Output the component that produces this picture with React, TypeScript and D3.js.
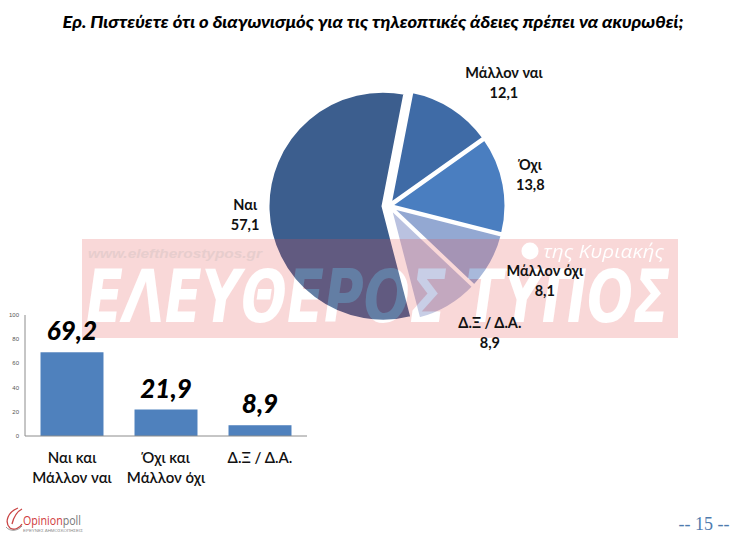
import React from "react";
import * as d3 from "d3";

const W = 747;
const H = 552;

const titleText = "Ερ. Πιστεύετε ότι ο διαγωνισμός για τις τηλεοπτικές άδειες πρέπει να ακυρωθεί;";

// Pie data
const pieCategories = ["Ναι", "Μάλλον ναι", "Όχι", "Μάλλον όχι", "Δ.Ξ / Δ.Α."];
const pieValues = [57.1, 12.1, 13.8, 8.1, 8.9];
const pieColors = ["#3C5E8E", "#3F6BA6", "#4A7EC0", "#93A8D2", "#BAC2E0"];

// Bar data
const barCategories = [["Ναι και", "Μάλλον ναι"], ["Όχι και", "Μάλλον όχι"], ["Δ.Ξ / Δ.Α."]];
const barValues = [69.2, 21.9, 8.9];
const yTicks = [0, 20, 40, 60, 80, 100];

// layout nudges for pie labels (dx, dy) relative to label arc
const labelNudge: [number, number][] = [
  [11, -1],
  [31, 2],
  [-11, -7],
  [20, -5],
  [22, -11],
];

const fmt = (v: number) => v.toFixed(1).replace(".", ",");

export default function App() {
  // ---- Pie ----
  const cx = 389;
  const cy = 206;
  const r = 115;
  const deg = Math.PI / 180;
  const firstStart = 11 * deg - (pieValues[0] / 100) * 2 * Math.PI;
  const pie = d3
    .pie<number>()
    .sort(null)
    .value((d) => d)
    .startAngle(firstStart)
    .endAngle(firstStart + 2 * Math.PI);
  const arcs = pie(pieValues);
  const arcGen = d3.arc<d3.PieArcDatum<number>>().innerRadius(0).outerRadius(r);
  const labelArc = d3.arc<d3.PieArcDatum<number>>().innerRadius(155).outerRadius(155);
  const explode = [6, 2, 2, 2, 2];

  // ---- Bars ----
  const x = d3
    .scaleBand<number>()
    .domain(barValues.map((_, i) => i))
    .range([25, 307])
    .paddingInner(0.33)
    .paddingOuter(0.165);
  const y = d3.scaleLinear().domain([0, 100]).range([436, 315]);

  const labelFont = "Lato, 'Open Sans', sans-serif";
  const wmFont = "'DejaVu Sans', 'Liberation Sans', sans-serif";

  const bigWord = (fill: string) => (
    <text
      x={86}
      y={322}
      fontFamily={wmFont}
      fontWeight="bold"
      fontStyle="italic"
      fontSize={73}
      textLength={584}
      lengthAdjust="spacingAndGlyphs"
      fill={fill}
    >
      ΕΛΕΥΘΕΡΟΣ ΤΥΠΟΣ
    </text>
  );

  return (
    <svg
      width={W}
      height={H}
      style={{ position: "absolute", left: 0, top: 0, background: "#fff" }}
      fontFamily={labelFont}
    >
      <defs>
        <mask id="bandMask" maskUnits="userSpaceOnUse" x="0" y="0" width={W} height={H}>
          <rect x={0} y={0} width={W} height={H} fill="#fff" />
          {bigWord("#000")}
          <circle cx={530} cy={251} r={8.5} fill="#000" />
          <text
            x={543}
            y={258}
            fontFamily="'Open Sans', sans-serif"
            fontStyle="italic"
            fontSize={19}
            textLength={121}
            lengthAdjust="spacingAndGlyphs"
            fill="#000"
          >
            της Κυριακής
          </text>
        </mask>
      </defs>

      {/* Title */}
      <text
        x={373}
        y={28}
        textAnchor="middle"
        fontWeight={900}
        fontStyle="italic"
        fontSize={16}
        textLength={621}
        lengthAdjust="spacingAndGlyphs"
        fill="#000"
      >
        {titleText}
      </text>

      {/* Pie */}
      <g transform={`translate(${cx},${cy})`}>
        {arcs.map((a, i) => {
          const mid = (a.startAngle + a.endAngle) / 2;
          const dx = Math.sin(mid) * explode[i];
          const dy = -Math.cos(mid) * explode[i];
          return (
            <path
              key={i}
              d={arcGen(a) || ""}
              transform={`translate(${dx},${dy})`}
              fill={pieColors[i]}
              stroke="#fff"
              strokeWidth={3}
              strokeLinejoin="round"
            />
          );
        })}
      </g>

      {/* Bars */}
      <g>
        {barValues.map((v, i) => (
          <rect
            key={i}
            x={x(i)}
            y={y(v)}
            width={x.bandwidth()}
            height={y(0) - y(v)}
            fill="#4F81BD"
          />
        ))}
        <line x1={25} x2={307} y1={y(0)} y2={y(0)} stroke="#8C8C8C" strokeWidth={1} />
        <line x1={25} x2={25} y1={y(100)} y2={y(0)} stroke="#8C8C8C" strokeWidth={1} />
        {yTicks.map((t) => (
          <text
            key={t}
            x={19}
            y={y(t) + 2}
            textAnchor="end"
            fontSize={6}
            fill="#555"
            fontFamily="'Liberation Sans', Arial, sans-serif"
          >
            {t}
          </text>
        ))}
      </g>

      {/* Watermark */}
      <g>
        <rect x={82} y={239} width={596} height={99} fill="#E65050" opacity={0.22} mask="url(#bandMask)" />
        <g opacity={0.2}>{bigWord("#fff")}</g>
        <text
          x={88}
          y={258}
          fontFamily="'Liberation Sans', Arial, sans-serif"
          fontWeight="bold"
          fontStyle="italic"
          fontSize={13}
          textLength={174}
          lengthAdjust="spacingAndGlyphs"
          fill="#E7CDCD"
        >
          www.eleftherostypos.gr
        </text>
      </g>

      {/* Pie labels */}
      {arcs.map((a, i) => {
        const [lx, ly] = labelArc.centroid(a);
        const px = cx + lx + labelNudge[i][0];
        const py = cy + ly + labelNudge[i][1];
        return (
          <g key={i} fontWeight="bold" fontSize={14.5} fill="#111" textAnchor="middle">
            <text x={px} y={py}>{pieCategories[i]}</text>
            <text x={px} y={py + 20}>{fmt(pieValues[i])}</text>
          </g>
        );
      })}

      {/* Bar value labels */}
      {barValues.map((v, i) => (
        <text
          key={i}
          x={(x(i) || 0) + x.bandwidth() / 2}
          y={y(v) - 12}
          textAnchor="middle"
          fontWeight={900}
          fontStyle="italic"
          fontSize={26}
          fill="#000"
        >
          {fmt(v)}
        </text>
      ))}

      {/* Bar category labels */}
      {barCategories.map((lines, i) => (
        <text
          key={i}
          x={(x(i) || 0) + x.bandwidth() / 2}
          textAnchor="middle"
          fontSize={15}
          fontWeight={600}
          fill="#111"
        >
          {lines.map((l, j) => (
            <tspan key={j} x={(x(i) || 0) + x.bandwidth() / 2} y={463 + j * 19.5}>
              {l}
            </tspan>
          ))}
        </text>
      ))}

      {/* Footer logo */}
      <g>
        <path
          d="M 18 508 C 8 512, 4 522, 10 528 C 14 531, 20 528, 22 524 M 12 524 C 14 516, 18 511, 22 509"
          fill="none"
          stroke="#C94444"
          strokeWidth={1.3}
        />
        <path d="M 6 527 C 10 532, 18 531, 22 526" fill="none" stroke="#999" strokeWidth={1} />
        <text x={23} y={525} fontSize={13} fontFamily="'Open Sans', sans-serif" textLength={58} lengthAdjust="spacingAndGlyphs">
          <tspan fill="#D0393B">Opinion</tspan>
          <tspan fill="#777">poll</tspan>
        </text>
        <text x={23} y={532} fontSize={4} fill="#888" textLength={60} lengthAdjust="spacingAndGlyphs" fontFamily="'Liberation Sans', Arial, sans-serif">
          ΕΡΕΥΝΕΣ ΔΗΜΟΣΚΟΠΗΣΕΙΣ
        </text>
      </g>

      {/* Page number */}
      <text
        x={704}
        y={530}
        textAnchor="middle"
        fontSize={18}
        fontFamily="'Liberation Serif', 'DejaVu Serif', serif"
        fill="#4F7BAE"
      >
        -- 15 --
      </text>
    </svg>
  );
}
